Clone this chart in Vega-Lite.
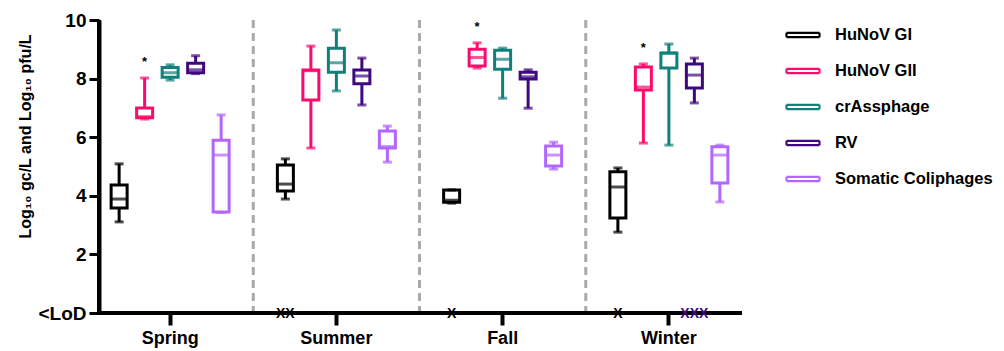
{
  "$schema": "https://vega.github.io/schema/vega-lite/v6.json",
  "width": 643,
  "height": 293,
  "autosize": "none",
  "padding": {"left": 99, "top": 20, "right": 262, "bottom": 38},
  "config": {"view": {"stroke": null}, "font": "Liberation Sans"},
  "datasets": {
    "boxes": [
      {"season": "Spring", "target": "HuNoV GI", "min": 3.11, "q1": 3.58, "median": 3.89, "q3": 4.37, "max": 5.09},
      {"season": "Spring", "target": "HuNoV GII", "min": 6.62, "q1": 6.66, "median": 6.7, "q3": 7.0, "max": 8.02, "sig": "*"},
      {"season": "Spring", "target": "crAssphage", "min": 7.95, "q1": 8.05, "median": 8.2, "q3": 8.38, "max": 8.47},
      {"season": "Spring", "target": "RV", "min": 8.17, "q1": 8.2, "median": 8.3, "q3": 8.52, "max": 8.78},
      {"season": "Spring", "target": "Somatic Coliphages", "min": 3.43, "q1": 3.45, "median": 5.39, "q3": 5.9, "max": 6.76},
      {"season": "Summer", "target": "HuNoV GI", "min": 3.89, "q1": 4.16, "median": 4.4, "q3": 5.05, "max": 5.26, "lod": "XX"},
      {"season": "Summer", "target": "HuNoV GII", "min": 5.63, "q1": 7.27, "median": 8.27, "q3": 8.29, "max": 9.11},
      {"season": "Summer", "target": "crAssphage", "min": 7.58, "q1": 8.22, "median": 8.54, "q3": 9.04, "max": 9.66},
      {"season": "Summer", "target": "RV", "min": 7.1, "q1": 7.82, "median": 8.09, "q3": 8.29, "max": 8.7},
      {"season": "Summer", "target": "Somatic Coliphages", "min": 5.15, "q1": 5.63, "median": 5.68, "q3": 6.21, "max": 6.38},
      {"season": "Fall", "target": "HuNoV GI", "min": 3.75, "q1": 3.78, "median": 3.85, "q3": 4.2, "max": 4.2, "lod": "X"},
      {"season": "Fall", "target": "HuNoV GII", "min": 8.36, "q1": 8.43, "median": 8.72, "q3": 9.0, "max": 9.22, "sig": "*"},
      {"season": "Fall", "target": "crAssphage", "min": 7.33, "q1": 8.32, "median": 8.66, "q3": 8.97, "max": 9.04},
      {"season": "Fall", "target": "RV", "min": 6.99, "q1": 7.99, "median": 8.06, "q3": 8.22, "max": 8.3},
      {"season": "Fall", "target": "Somatic Coliphages", "min": 4.91, "q1": 5.02, "median": 5.39, "q3": 5.7, "max": 5.83},
      {"season": "Winter", "target": "HuNoV GI", "min": 2.76, "q1": 3.24, "median": 4.3, "q3": 4.82, "max": 4.95, "lod": "X"},
      {"season": "Winter", "target": "HuNoV GII", "min": 5.8, "q1": 7.61, "median": 7.71, "q3": 8.4, "max": 8.5, "sig": "*"},
      {"season": "Winter", "target": "crAssphage", "min": 5.73, "q1": 8.36, "median": 8.87, "q3": 8.87, "max": 9.18},
      {"season": "Winter", "target": "RV", "min": 7.17, "q1": 7.68, "median": 8.12, "q3": 8.5, "max": 8.7, "lod": "XXX"},
      {"season": "Winter", "target": "Somatic Coliphages", "min": 3.79, "q1": 4.44, "median": 5.39, "q3": 5.67, "max": 5.73}
    ],
    "seps": [{"season": "Summer"}, {"season": "Fall"}, {"season": "Winter"}],
    "yaxis": [{"season": "Spring"}]
  },
  "layer": [
    {
      "data": {"name": "boxes"},
      "mark": {"type": "rule", "strokeWidth": 3},
      "encoding": {
        "x": {"field": "season", "type": "nominal",
          "scale": {"domain": ["Spring", "Summer", "Fall", "Winter"], "range": [-12, 653], "paddingInner": 0, "paddingOuter": 0},
          "axis": {"title": null, "labelAngle": 0, "grid": false, "domain": false, "ticks": true, "tickSize": 12, "tickWidth": 4, "tickColor": "black", "labelFontSize": 18, "labelFontWeight": "bold", "labelColor": "black", "labelPadding": 4}},
        "xOffset": {"field": "target", "type": "nominal",
          "scale": {"domain": ["HuNoV GI", "HuNoV GII", "crAssphage", "RV", "Somatic Coliphages"], "paddingInner": 0, "paddingOuter": 0.76}},
        "y": {"field": "min", "type": "quantitative",
          "scale": {"domain": [0, 10], "nice": false, "zero": false},
          "axis": {"values": [0, 2, 4, 6, 8, 10], "labelExpr": "datum.value == 0 ? '<LoD' : datum.label", "grid": false,
            "domain": true, "ticks": true, "domainColor": "#000000", "domainWidth": 4,
            "tickColor": "#000000", "tickWidth": 3, "tickSize": 10,
            "labelFontSize": 19,
            "labelFontWeight": "bold", "labelColor": "black", "labelPadding": 3,
            "title": "Log₁₀ gc/L and Log₁₀ pfu/L", "titleFontSize": 16, "titleFontWeight": "bold", "titleColor": "black",
            "titleX": -74, "titleY": 116, "titleAngle": -90, "titleAlign": "center", "titleBaseline": "middle",
            "encode": {"labels": {"update": {"fontSize": {"signal": "datum.value == 0 ? 18 : 19"}}}}}},
        "y2": {"field": "q1"},
        "color": {"field": "target", "type": "nominal",
          "scale": {"domain": ["HuNoV GI", "HuNoV GII", "crAssphage", "RV", "Somatic Coliphages"], "range": ["#000000", "#ff0a6c", "#12807a", "#40087f", "#b366ff"]},
          "legend": {"title": null, "orient": "none", "legendX": 686, "legendY": -3, "symbolType": "M-1,-0.13H1M-1,0.13H1M-1,-0.13V0.13M1,-0.13V0.13", "symbolSize": 1089, "symbolStrokeWidth": 2.2, "labelFontSize": 16.5, "labelFontWeight": "bold", "labelFont": "Liberation Sans", "labelColor": "black", "labelOffset": 14, "rowPadding": 9, "padding": 0}}
      }
    },
    {
      "data": {"name": "seps"},
      "mark": {"type": "rule", "color": "#a9a9a9", "strokeWidth": 3, "strokeDash": [8, 5]},
      "encoding": {
        "x": {"field": "season", "type": "nominal", "bandPosition": 0},
        "y": {"datum": 10, "type": "quantitative"},
        "y2": {"datum": 0}
      }
    },
    {
      "data": {"name": "yaxis"},
      "mark": {"type": "rule", "color": "black", "strokeWidth": 4},
      "encoding": {
        "x": {"field": "season", "type": "nominal", "bandPosition": 0.0722},
        "y": {"datum": 10, "type": "quantitative"},
        "y2": {"datum": 0}
      }
    },
    {
      "data": {"name": "boxes"},
      "mark": {"type": "rule", "strokeWidth": 3},
      "encoding": {
        "x": {"field": "season", "type": "nominal"},
        "xOffset": {"field": "target", "type": "nominal"},
        "y": {"field": "q3", "type": "quantitative"},
        "y2": {"field": "max"},
        "color": {"field": "target", "type": "nominal"}
      }
    },
    {
      "data": {"name": "boxes"},
      "mark": {"type": "bar", "filled": false, "strokeWidth": 3, "width": 16},
      "encoding": {
        "x": {"field": "season", "type": "nominal"},
        "xOffset": {"field": "target", "type": "nominal"},
        "y": {"field": "q1", "type": "quantitative"},
        "y2": {"field": "q3"},
        "color": {"field": "target", "type": "nominal"}
      }
    },
    {
      "data": {"name": "boxes"},
      "mark": {"type": "tick", "size": 16, "thickness": 3},
      "encoding": {
        "x": {"field": "season", "type": "nominal"},
        "xOffset": {"field": "target", "type": "nominal"},
        "y": {"field": "median", "type": "quantitative"},
        "color": {"field": "target", "type": "nominal"}
      }
    },
    {
      "data": {"name": "boxes"},
      "mark": {"type": "tick", "size": 9, "thickness": 3},
      "encoding": {
        "x": {"field": "season", "type": "nominal"},
        "xOffset": {"field": "target", "type": "nominal"},
        "y": {"field": "min", "type": "quantitative"},
        "color": {"field": "target", "type": "nominal"}
      }
    },
    {
      "data": {"name": "boxes"},
      "mark": {"type": "tick", "size": 9, "thickness": 3},
      "encoding": {
        "x": {"field": "season", "type": "nominal"},
        "xOffset": {"field": "target", "type": "nominal"},
        "y": {"field": "max", "type": "quantitative"},
        "color": {"field": "target", "type": "nominal"}
      }
    },
    {
      "data": {"name": "boxes"},
      "transform": [{"filter": "datum.sig"}],
      "mark": {"type": "text", "fontSize": 13, "fontWeight": "bold", "color": "black", "baseline": "middle", "dy": -16},
      "encoding": {
        "x": {"field": "season", "type": "nominal"},
        "xOffset": {"field": "target", "type": "nominal"},
        "y": {"field": "max", "type": "quantitative"},
        "text": {"field": "sig"}
      }
    },
    {
      "data": {"values": [{"axis": "x"}]},
      "mark": {"type": "rule", "color": "black", "strokeWidth": 4},
      "encoding": {"y": {"datum": 0, "type": "quantitative"}}
    },
    {
      "data": {"name": "boxes"},
      "transform": [{"filter": "datum.lod"}],
      "mark": {"type": "text", "fontSize": 14, "fontWeight": "bold", "baseline": "middle", "dy": 1, "letterSpacing": -1},
      "encoding": {
        "x": {"field": "season", "type": "nominal"},
        "xOffset": {"field": "target", "type": "nominal"},
        "y": {"datum": 0, "type": "quantitative"},
        "text": {"field": "lod"},
        "color": {"field": "target", "type": "nominal"}
      }
    }
  ]
}
